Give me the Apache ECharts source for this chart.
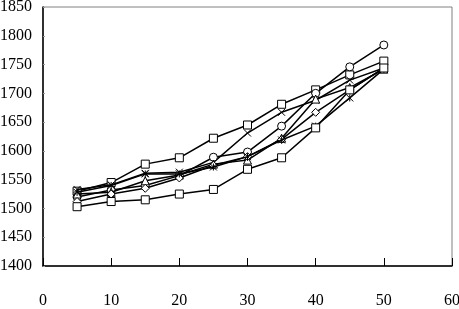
<!DOCTYPE html>
<html><head><meta charset="utf-8">
<script src="https://cdn.jsdelivr.net/npm/echarts@6/dist/echarts.min.js"></script>
<style>html,body{margin:0;padding:0;background:#fff}#c{width:459px;height:309px}</style>
</head><body><div id="c"></div>
<script>
const xValues = [5, 10, 15, 20, 25, 30, 35, 40, 45, 50];
const seriesNames = ['S1', 'S2', 'S3', 'S4', 'S5', 'S6', 'S7'];
const s1 = [1530, 1545, 1577, 1588, 1622, 1645, 1681, 1706, 1732, 1756];
const s2 = [1533, 1541, 1561, 1563, 1580, 1631, 1667, 1688, 1723, 1744];
const s3 = [1520, 1532, 1540, 1557, 1589, 1598, 1643, 1700, 1746, 1784];
const s4 = [1525, 1528, 1548, 1558, 1577, 1584, 1622, 1690, 1710, 1742];
const s5 = [1512, 1525, 1535, 1553, 1575, 1590, 1620, 1667, 1706, 1744];
const s6 = [1528, 1540, 1560, 1560, 1572, 1590, 1619, 1643, 1692, 1742];
const s7 = [1503, 1512, 1515, 1525, 1533, 1568, 1588, 1640, 1706, 1744];
const symbols = ['rect', 'path://M0,0L10,10M10,0L0,10', 'circle', 'triangle', 'diamond', 'path://M0,0L10,10M10,0L0,10M5,0L5,10', 'rect'];
const allData = [s1, s2, s3, s4, s5, s6, s7];

const font = "'Liberation Serif', serif";
const chart = echarts.init(document.getElementById('c'));
chart.setOption({
  animation: false,
  backgroundColor: '#fff',
  grid: { left: 43, top: 7, right: 7, bottom: 43, containLabel: false, outerBoundsMode: 'none', show: true, borderColor: '#808080', borderWidth: 1, backgroundColor: 'transparent' },
  xAxis: {
    type: 'value', min: 0, max: 60, interval: 10,
    axisLine: { lineStyle: { color: '#000', width: 1.5 } },
    axisTick: { inside: true, length: 8, lineStyle: { color: '#000' } },
    axisLabel: { margin: 27, color: '#000', fontFamily: font, fontSize: 16, formatter: v => String(v) },
    splitLine: { show: false }
  },
  yAxis: {
    type: 'value', min: 1400, max: 1850, interval: 50,
    axisLine: { show: true, lineStyle: { color: '#000', width: 1.5 } },
    axisTick: { show: true, inside: true, length: 2, lineStyle: { color: '#999' } },
    axisLabel: { margin: 11, color: '#000', fontFamily: font, fontSize: 16, formatter: v => String(v) },
    splitLine: { show: false }
  },
  series: allData.map((d, i) => ({
    name: seriesNames[i],
    type: 'line',
    data: xValues.map((x, j) => [x, d[j]]),
    symbol: symbols[i],
    symbolSize: (i === 1 || i === 5) ? 7 : 8,
    showSymbol: true,
    lineStyle: { color: '#000', width: 1.5 },
    itemStyle: { color: '#fff', borderColor: '#000', borderWidth: 1 },
    z: 2 + i
  }))
});
</script></body></html>
